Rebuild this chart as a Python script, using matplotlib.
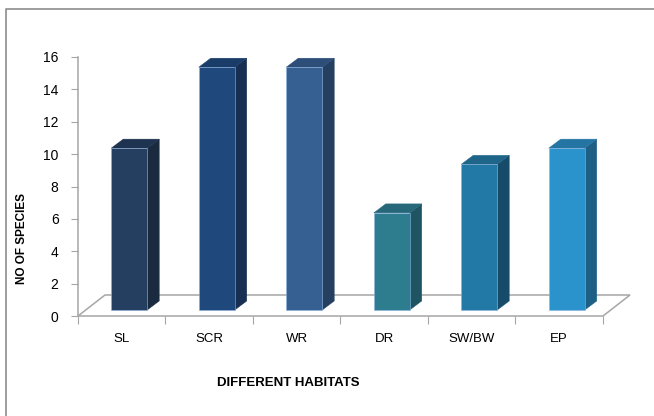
import matplotlib
matplotlib.use("Agg")
import matplotlib.pyplot as plt
from matplotlib.patches import Polygon
from matplotlib.lines import Line2D

# habitat counts
habitats = ["SL", "SCR", "WR", "DR", "SW/BW", "EP"]
species = [10, 15, 15, 6, 9, 10]
y_ticks = [0, 2, 4, 6, 8, 10, 12, 14, 16]

# front / side / top shades for each column
face_colors = ["#243F60", "#1F497D", "#376092", "#2E7D8F", "#2279A5", "#2B93CC"]
side_colors = ["#1A2B40", "#172F53", "#243F60", "#1F5563", "#174B6A", "#1E5F86"]
top_colors = ["#1E3350", "#1A3C68", "#2D4E78", "#26687A", "#1E6589", "#2475A4"]

W, H = 654, 416
fig = plt.figure(figsize=(W / 100, H / 100), dpi=100)
fig.patch.set_facecolor("white")

# plot box in pixels: x 78..603, y 57..316
ax = fig.add_axes([78 / W, (H - 316) / H, 525 / W, 259 / H])
ax.set_xlim(0, len(habitats))
ax.set_ylim(0, 16)
ax.set_facecolor("none")
for s in ax.spines.values():
    s.set_visible(False)

px_x = len(habitats) / 525.0
px_y = 16 / 259.0

# floor depth and column depth (oblique projection)
floor_dx, floor_dy = 27 * px_x, 21 * px_y
bar_dx, bar_dy = 12 * px_x, 9 * px_y
off_x, off_y = (floor_dx - bar_dx) / 2, (floor_dy - bar_dy) / 2
bar_w = 36 * px_x

grey = "#A6A6A6"

# floor
floor = Polygon([(0, 0), (len(habitats), 0),
                 (len(habitats) + floor_dx, floor_dy), (floor_dx, floor_dy)],
                closed=True, facecolor="white", edgecolor=grey, lw=1.1,
                clip_on=False, zorder=1)
ax.add_patch(floor)
ax.plot([0, 0], [0, 16], color=grey, lw=1.1, clip_on=False, zorder=1)

for i, (v, fc, sc, tc) in enumerate(zip(species, face_colors, side_colors, top_colors)):
    x0 = i + 0.5 - bar_w / 2 + off_x
    x1 = x0 + bar_w
    y0 = off_y
    y1 = off_y + v
    front = Polygon([(x0, y0), (x1, y0), (x1, y1), (x0, y1)],
                    facecolor=fc, edgecolor="#8DB3E2", lw=0.4, zorder=3, clip_on=False)
    side = Polygon([(x1, y0), (x1 + bar_dx, y0 + bar_dy),
                    (x1 + bar_dx, y1 + bar_dy), (x1, y1)],
                   facecolor=sc, edgecolor=sc, lw=0.3, zorder=2, clip_on=False)
    top = Polygon([(x0, y1), (x1, y1), (x1 + bar_dx, y1 + bar_dy),
                   (x0 + bar_dx, y1 + bar_dy)],
                  facecolor=tc, edgecolor=tc, lw=0.3, zorder=2, clip_on=False)
    for p in (side, top, front):
        ax.add_patch(p)

# axes ticks and labels
ax.set_yticks(y_ticks)
ax.set_yticklabels([str(t) for t in y_ticks])
ax.tick_params(axis="y", direction="out", length=5, color=grey, pad=9,
               labelsize=10, labelcolor="#000000")
ax.set_xticks(range(len(habitats) + 1), minor=False)
ax.set_xticklabels([])
ax.set_xticks([i + 0.5 for i in range(len(habitats))], minor=True)
ax.set_xticklabels(habitats, minor=True)
ax.tick_params(axis="x", which="major", direction="out", length=6, color=grey)
ax.tick_params(axis="x", which="minor", length=0, pad=12, labelsize=9.5)
for lab in ax.get_xticklabels(minor=True) + ax.get_yticklabels():
    lab.set_family(["Liberation Sans", "DejaVu Sans"])

title_font = ["Liberation Sans Narrow", "Liberation Sans", "DejaVu Sans"]
fig.text(288 / W, 1 - 383 / H, "DIFFERENT HABITATS", fontsize=9.5,
         fontweight="bold", family=title_font, ha="center", va="center")
fig.text(22 / W, 1 - 238 / H, "NO OF SPECIES", fontsize=8.5,
         fontweight="bold", family=title_font, ha="center", va="center",
         rotation=90)

# chart frame (left and top edges)
fig.add_artist(Line2D([6 / W, 6 / W, 1.0], [0.0, 1 - 9 / H, 1 - 9 / H],
                      transform=fig.transFigure, color="#8C8C8C", lw=1.2))

fig.savefig("out.png", dpi=100)
